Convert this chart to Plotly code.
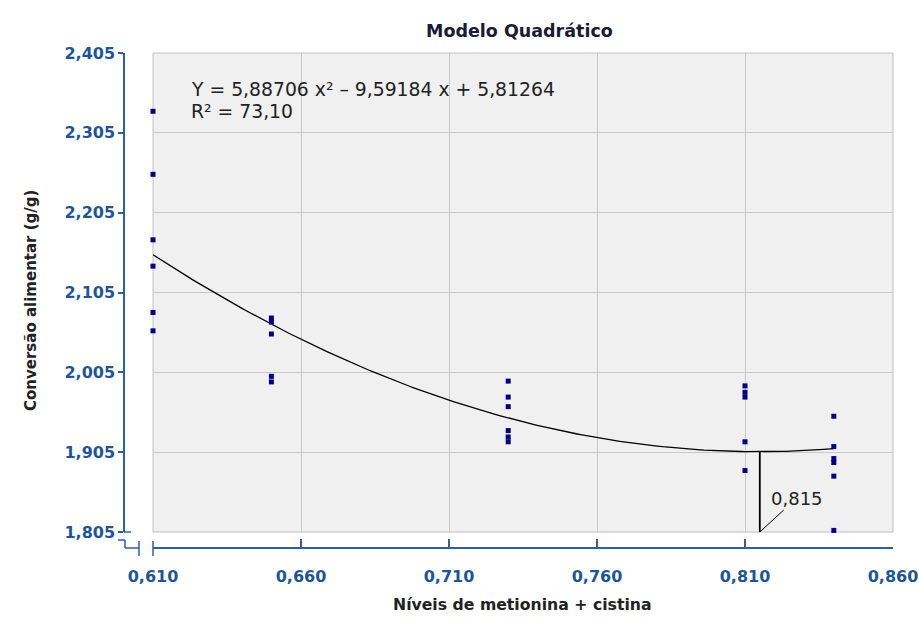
import plotly.graph_objects as go
import numpy as np

# ---------------- data ----------------
levels = [0.610, 0.650, 0.730, 0.810, 0.840]
conv_0610 = [2.332, 2.253, 2.171, 2.138, 2.080, 2.057]
conv_0650 = [2.073, 2.068, 2.053, 2.000, 1.993]
conv_0730 = [1.994, 1.974, 1.962, 1.932, 1.924, 1.918]
conv_0810 = [1.988, 1.980, 1.974, 1.918, 1.882]
conv_0840 = [1.950, 1.912, 1.897, 1.892, 1.875, 1.807]
groups = [conv_0610, conv_0650, conv_0730, conv_0810, conv_0840]

coef_a, coef_b, coef_c = 5.88706, -9.59184, 5.81264
r_squared = 73.10
x_optimum = 0.815

x_ticks = [0.610, 0.660, 0.710, 0.760, 0.810, 0.860]
y_ticks = [1.805, 1.905, 2.005, 2.105, 2.205, 2.305, 2.405]

title_text = "Modelo Quadrático"
x_title = "Níveis de metionina + cistina"
y_title = "Conversão alimentar (g/g)"
eq_text = "Y = 5,88706 x² – 9,59184 x + 5,81264"
r2_text = "R² = 73,10"
opt_text = "0,815"

# ---------------- layout helpers ----------------
W, H = 919, 630
def px(x):
    return x / W
def py(y):
    return 1 - y / H

FONT = "DejaVu Sans"
BLUE = "#1F5597"
AXIS = "#2F5F9F"

xs, ys = [], []
for lv, g in zip(levels, groups):
    xs += [lv] * len(g)
    ys += g

def model(x):
    return coef_a * x**2 + coef_b * x + coef_c

xc = np.linspace(levels[0], levels[-1], 200)
yc = model(xc)

fig = go.Figure()
fig.add_trace(go.Scatter(x=xc, y=yc, mode="lines",
                         line=dict(color="black", width=1.3),
                         hoverinfo="skip", showlegend=False))
fig.add_trace(go.Scatter(x=[x_optimum, x_optimum], y=[y_ticks[0], model(x_optimum)],
                         mode="lines", line=dict(color="black", width=1.8),
                         showlegend=False, cliponaxis=False))
fig.add_trace(go.Scatter(x=xs, y=ys, mode="markers",
                         marker=dict(symbol="square", size=5, color="#000080"),
                         showlegend=False, cliponaxis=False))

fig.update_layout(
    width=W, height=H,
    margin=dict(l=0, r=0, t=0, b=0),
    autosize=False,
    paper_bgcolor="white",
    plot_bgcolor="#F0F0F0",
    separators=",.",
    font=dict(family=FONT, color="#222222"),
    xaxis=dict(
        domain=[px(153), px(893)],
        range=[x_ticks[0], x_ticks[-1]],
        anchor="free", position=py(548),
        tickvals=x_ticks, tickformat=".3f",
        ticks="inside", ticklen=8, tickcolor=AXIS, tickwidth=1.5,
        showline=True, linecolor=AXIS, linewidth=1.5,
        showgrid=True, gridcolor="#C8C8C8", gridwidth=1,
        zeroline=False,
        tickfont=dict(family=FONT, size=16, color=BLUE, weight="bold"),
        ticklabelstandoff=14,
        automargin=False,
    ),
    yaxis=dict(
        domain=[py(532), py(53)],
        range=[y_ticks[0], y_ticks[-1]],
        anchor="free", position=px(124),
        tickvals=y_ticks, tickformat=".3f",
        ticks="outside", ticklen=5, tickcolor=AXIS, tickwidth=1.5,
        showline=True, linecolor=AXIS, linewidth=1.5,
        showgrid=True, gridcolor="#C8C8C8", gridwidth=1,
        zeroline=False,
        tickfont=dict(family=FONT, size=16, color=BLUE, weight="bold"),
        automargin=False,
    ),
)

# plot border
fig.add_shape(type="rect", xref="x domain", yref="y domain", x0=0, x1=1, y0=0, y1=1,
              line=dict(color="#C0C0C0", width=1), layer="below")

# axis break decorations
brk = dict(color=AXIS, width=1.5)
def seg(x0, y0, x1, y1):
    fig.add_shape(type="line", xref="paper", yref="paper",
                  x0=px(x0), y0=py(y0), x1=px(x1), y1=py(y1), line=brk)
seg(124, 532, 131, 532)
seg(118, 540, 125, 540)
seg(125, 540, 125, 548)
seg(125, 548, 139, 548)
seg(139, 541, 139, 556)
seg(153, 541, 153, 556)

# texts
fig.add_annotation(text=title_text, xref="paper", yref="paper", x=px(519), y=py(19),
                   showarrow=False, font=dict(family=FONT, size=17.5, color="#1A1A33", weight="bold"))
fig.add_annotation(text=x_title, xref="paper", yref="paper", x=px(522), y=py(616),
                   showarrow=False, font=dict(family=FONT, size=15.7, color="#222222", weight="bold"))
fig.add_annotation(text=y_title, xref="paper", yref="paper", x=px(20), y=py(301),
                   showarrow=False, textangle=-90,
                   font=dict(family=FONT, size=15, color="#222222", weight="bold"))
fig.add_annotation(text=eq_text, xref="paper", yref="paper", x=px(189), y=py(77),
                   xanchor="left", showarrow=False,
                   font=dict(family=FONT, size=18.8, color="#222222"))
fig.add_annotation(text=r2_text, xref="paper", yref="paper", x=px(189), y=py(99),
                   xanchor="left", showarrow=False,
                   font=dict(family=FONT, size=18.8, color="#222222"))
fig.add_annotation(text=opt_text, x=x_optimum, y=y_ticks[0], xref="x", yref="y",
                   showarrow=True, arrowhead=0, arrowwidth=1, arrowcolor="black",
                   ax=37, ay=-34, font=dict(family=FONT, size=18, color="#222222"))

fig.write_html("out.html", config={"displayModeBar": False},
               post_script="document.body.style.margin='0';document.body.style.overflow='hidden';")
